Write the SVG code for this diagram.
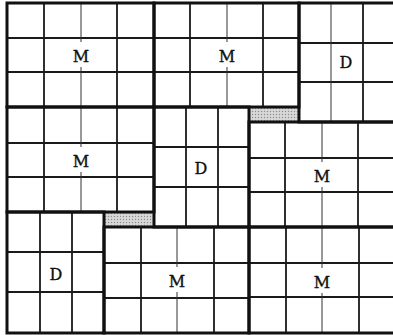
<svg xmlns="http://www.w3.org/2000/svg" width="393" height="335" viewBox="0 0 393 335">
<style>
.b{fill:none;stroke:#111;stroke-width:3}
.g{stroke:#1a1a1a;stroke-width:1.8;fill:none}
.c{stroke:#333;stroke-width:1;fill:none}
.t{font-family:"DejaVu Serif","Liberation Serif",serif;font-size:16px;fill:#111;stroke:#111;stroke-width:0.35;text-anchor:middle}
</style>
<defs>
<pattern id="dots" width="3" height="3" patternUnits="userSpaceOnUse">
<rect width="3" height="3" fill="#d0d0d0"/>
<rect x="0" y="0" width="1" height="1" fill="#8a8a8a"/>
<rect x="1.5" y="1.5" width="1" height="1" fill="#f0f0f0"/>
</pattern>
</defs>
<rect width="393" height="335" fill="#fff"/>
<g id="fill-patches">
<rect x="249" y="107" width="50" height="15" fill="url(#dots)"/>
<rect x="104" y="212" width="50" height="15" fill="url(#dots)"/>
</g>
<g id="M1">
<path class="g" d="M44 3V107M117 3V107M7 38H154M7 72H154"/>
<path class="c" d="M81 3V42M81 67V107"/>
<rect class="b" x="7" y="3" width="147" height="104"/>
<text class="t" x="81" y="62">M</text>
</g>
<g id="M2">
<path class="g" d="M190 3V107M263 3V107M154 38H299M154 72H299"/>
<path class="c" d="M227 3V42M227 67V107"/>
<rect class="b" x="154" y="3" width="145" height="104"/>
<text class="t" x="227" y="62">M</text>
</g>
<g id="D1">
<path class="g" d="M363 3V122M299 43H395M299 82H395"/>
<path class="c" d="M331 3V122"/>
<rect class="b" x="299" y="3" width="96" height="119"/>
<text class="t" x="346" y="68">D</text>
</g>
<g id="M3">
<path class="g" d="M44 107V212M117 107V212M7 143H154M7 177H154"/>
<path class="c" d="M81 107V147M81 172V212"/>
<rect class="b" x="7" y="107" width="147" height="105"/>
<text class="t" x="81" y="167">M</text>
</g>
<g id="D2">
<path class="g" d="M186 107V227M218 107V227M154 147H249M154 187H249"/>
<rect class="b" x="154" y="107" width="95" height="120"/>
<text class="t" x="201" y="174">D</text>
</g>
<g id="M4">
<path class="g" d="M285 122V227M358 122V227M249 158H395M249 192H395"/>
<path class="c" d="M322 122V162M322 187V227"/>
<rect class="b" x="249" y="122" width="146" height="105"/>
<text class="t" x="322" y="182">M</text>
</g>
<g id="D3">
<path class="g" d="M40 212V333M72 212V333M7 252H104M7 292H104"/>
<rect class="b" x="7" y="212" width="97" height="121"/>
<text class="t" x="56" y="280">D</text>
</g>
<g id="M5">
<path class="g" d="M141 227V333M214 227V333M104 263H249M104 298H249"/>
<path class="c" d="M177 227V267M177 292V333"/>
<rect class="b" x="104" y="227" width="145" height="106"/>
<text class="t" x="177" y="287">M</text>
</g>
<g id="M6">
<path class="g" d="M286 227V333M359 227V333M249 263H395M249 297H395"/>
<path class="c" d="M322 227V268M322 293V333"/>
<rect class="b" x="249" y="227" width="146" height="106"/>
<text class="t" x="322" y="288">M</text>
</g>
<g id="connectors"/>
</svg>
